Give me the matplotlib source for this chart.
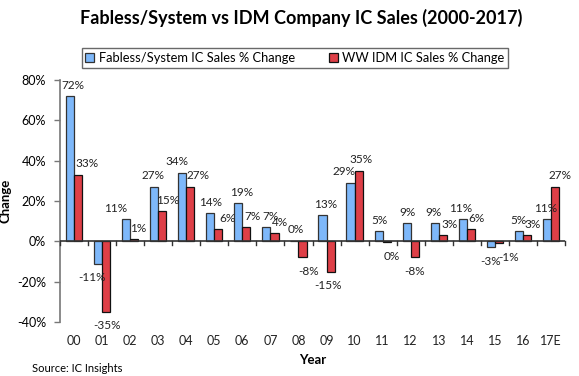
import matplotlib
matplotlib.use("Agg")
import matplotlib.pyplot as plt
import numpy as np

plt.rcParams['font.family'] = ['Lato', 'DejaVu Sans']

# data
years = ['00', '01', '02', '03', '04', '05', '06', '07', '08',
         '09', '10', '11', '12', '13', '14', '15', '16', '17E']
fabless = [72, -11, 11, 27, 34, 14, 19, 7, 0.3, 13, 29, 5, 9, 9, 11, -3, 5, 11]
idm = [33, -35, 1, 15, 27, 6, 7, 4, -8, -15, 35, -0.4, -8, 3, 6, -1, 3, 27]

# sideways nudges of the value labels (pixels), as in the original
fab_dx = [3, -6, -10, -1, -5, 0, 3, 4, 1, 3, -7, 1, 1, -1, -2, 0, 0, -1]
idm_dx = [9, 1, 4, 5, 8, 9, 6, 5, 6, -3, 2, 5, 0, 7, 6, 10, 6, 5]

blue = '#7EB8FA'
red = '#DE3F47'

fig = plt.figure(figsize=(5.79, 3.76), dpi=100)
ax = fig.add_axes([60/579, 1-322/376, 505/579, 242/376])

x = np.arange(len(years))
w = 0.29
b1 = ax.bar(x - w/2, fabless, w, color=blue, edgecolor='#333333', linewidth=0.9,
            label='Fabless/System IC Sales % Change')
b2 = ax.bar(x + w/2, idm, w, color=red, edgecolor='#111111', linewidth=0.9,
            label='WW IDM IC Sales % Change')

for bars, vals, dxs in ((b1, fabless, fab_dx), (b2, idm, idm_dx)):
    for r, v, dx in zip(bars, vals, dxs):
        cx = r.get_x() + r.get_width()/2
        txt = '%d%%' % round(v)
        dy = 11 if v >= 0 else -14
        ax.annotate(txt, (cx, v), xytext=(dx, dy), textcoords='offset pixels',
                    ha='center', va='center', fontsize=8.5, color='#222222')

ax.set_xlim(-0.5, len(years) - 0.5)
ax.set_ylim(-40, 80)
ax.set_yticks([-40, -20, 0, 20, 40, 60, 80])
ax.set_yticklabels(['%d%%' % t for t in [-40, -20, 0, 20, 40, 60, 80]], fontsize=9)
ax.tick_params(axis='y', direction='out', length=4, color='#777777', width=1, pad=6)

ax.spines['top'].set_visible(False)
ax.spines['right'].set_visible(False)
ax.spines['bottom'].set_visible(False)
ax.spines['left'].set_color('#777777')
ax.spines['left'].set_linewidth(1.2)

# category axis crossing at zero
ax.axhline(0, color='#333333', linewidth=1.2, zorder=3)
ax.set_xticks([])
for i in range(len(years) + 1):
    ax.plot([i - 0.5, i - 0.5], [0, -1.6], color='#333333', linewidth=1, zorder=3,
            clip_on=False)
for i, lab in enumerate(years):
    ax.text(i, -49.5, lab, ha='center', va='center', fontsize=9, color='#222222')

ax.text(-0.5 + len(years)/2, -59, 'Year', ha='center', va='center',
        fontsize=9.5, fontweight='bold')
ax.set_ylabel('Change', fontsize=9.5, fontweight='bold', labelpad=4)

fig.text(301/579, 1-18/376, 'Fabless/System vs IDM Company IC Sales (2000-2017)',
         ha='center', va='center', fontsize=13, fontweight='bold')
fig.text(32/579, 1-369/376, 'Source: IC Insights', ha='left', va='center', fontsize=8)

leg = fig.legend(loc='center', bbox_to_anchor=(295/579, 1-58/376), ncol=2,
                 fontsize=9.3, frameon=True, fancybox=False, edgecolor='#444444',
                 handlelength=0.7, handleheight=0.7, handletextpad=0.35,
                 columnspacing=2.6, borderpad=0.3, borderaxespad=0)
leg.get_frame().set_linewidth(1)

fig.savefig('out.png', dpi=100)
